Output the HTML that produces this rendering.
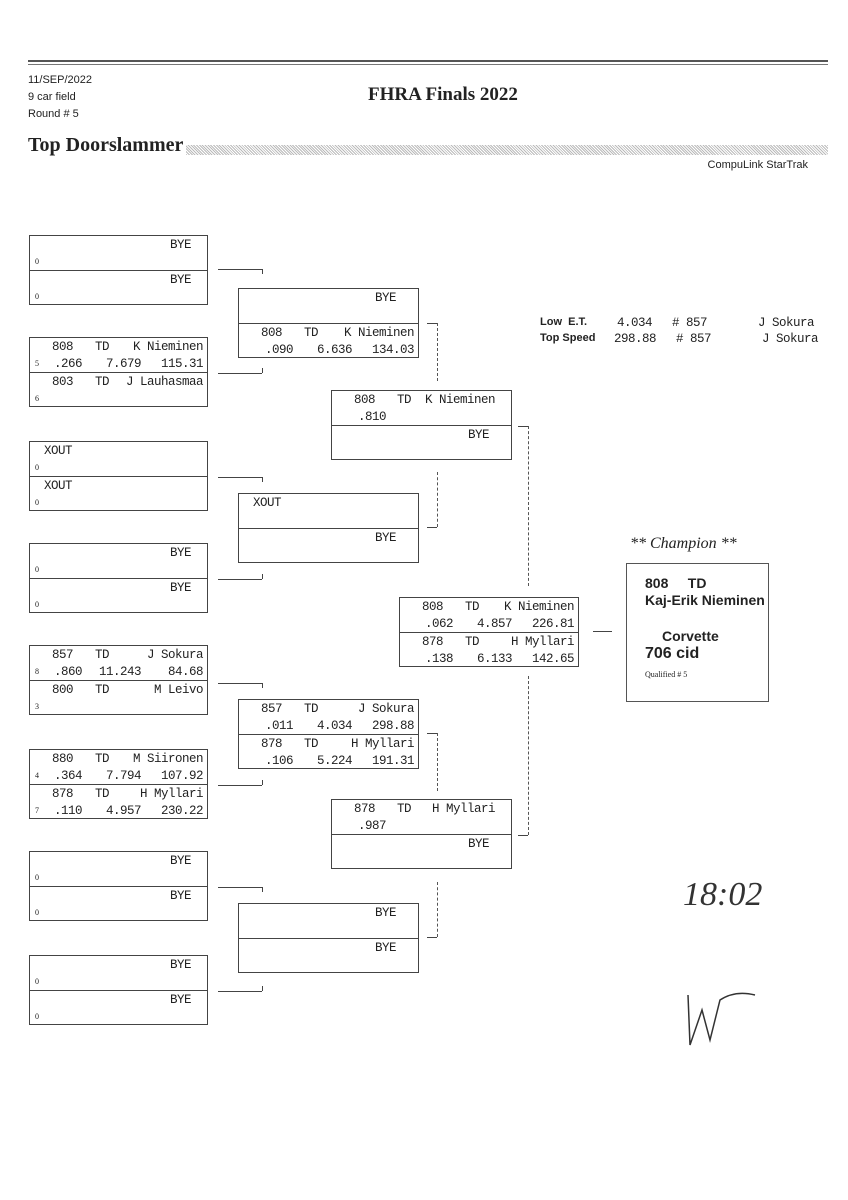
<!DOCTYPE html>
<html><head><meta charset="utf-8"><style>
body{margin:0;background:#fff;width:848px;height:1200px;position:relative;overflow:hidden;font-family:"Liberation Sans",sans-serif;color:#222}
.a{position:absolute}
.b{position:absolute;border:1px solid #444;width:179px;box-sizing:border-box;height:70px}
.h{position:absolute;left:0;right:0;height:34px}
.h2{top:34px;border-top:1px solid #444}
.r{position:absolute;font-family:"Liberation Mono",monospace;font-size:12.5px;line-height:14px;white-space:pre;letter-spacing:-0.5px}
.r1{top:2px}.r2{top:19px}
.n{left:22px}.t{left:65px}.nm{right:4px}.bye{right:16px}.xo{left:14px}
.rt{right:125px}.et{right:66px}.mp{right:4px}
.q{left:5px;top:21px;font-family:"Liberation Serif",serif;font-size:8px;position:absolute}
.hl{position:absolute;height:1px;background:#444}
.vl{position:absolute;width:1px;background:#444}
.dl{position:absolute;width:0;border-left:1px dashed #555}
</style></head><body>
<div class="a" style="left:28px;top:60px;width:800px;height:2px;background:#555"></div>
<div class="a" style="left:28px;top:64px;width:800px;height:1px;background:#777"></div>
<div class="a" style="left:28px;top:72px;font-size:11px;line-height:17px">11/SEP/2022<br>9 car field<br>Round # 5</div>
<div class="a" style="left:368px;top:84px;font-family:'Liberation Serif',serif;font-weight:bold;font-size:19px">FHRA Finals 2022</div>
<div class="a" style="left:28px;top:134px;font-family:'Liberation Serif',serif;font-weight:bold;font-size:20px">Top Doorslammer</div>
<div class="a" style="left:186px;top:145px;width:642px;height:10px;background:repeating-linear-gradient(45deg,#bbb 0 1px,#fff 1px 2px)"></div>
<div class="a" style="right:40px;top:159px;font-size:11px">CompuLink StarTrak</div>

<div class="b" style="left:29px;top:235px"><div class="h"><span class="r r1 bye">BYE</span><span class="q">0</span></div><div class="h h2"><span class="r r1 bye">BYE</span><span class="q">0</span></div></div>
<div class="b" style="left:29px;top:337px"><div class="h"><span class="r r1 n">808</span><span class="r r1 t">TD</span><span class="r r1 nm">K Nieminen</span><span class="q">5</span><span class="r r2 rt">.266</span><span class="r r2 et">7.679</span><span class="r r2 mp">115.31</span></div><div class="h h2"><span class="r r1 n">803</span><span class="r r1 t">TD</span><span class="r r1 nm">J Lauhasmaa</span><span class="q">6</span></div></div>
<div class="b" style="left:29px;top:441px"><div class="h"><span class="r r1 xo">XOUT</span><span class="q">0</span></div><div class="h h2"><span class="r r1 xo">XOUT</span><span class="q">0</span></div></div>
<div class="b" style="left:29px;top:543px"><div class="h"><span class="r r1 bye">BYE</span><span class="q">0</span></div><div class="h h2"><span class="r r1 bye">BYE</span><span class="q">0</span></div></div>
<div class="b" style="left:29px;top:645px"><div class="h"><span class="r r1 n">857</span><span class="r r1 t">TD</span><span class="r r1 nm">J Sokura</span><span class="q">8</span><span class="r r2 rt">.860</span><span class="r r2 et">11.243</span><span class="r r2 mp">84.68</span></div><div class="h h2"><span class="r r1 n">800</span><span class="r r1 t">TD</span><span class="r r1 nm">M Leivo</span><span class="q">3</span></div></div>
<div class="b" style="left:29px;top:749px"><div class="h"><span class="r r1 n">880</span><span class="r r1 t">TD</span><span class="r r1 nm">M Siironen</span><span class="q">4</span><span class="r r2 rt">.364</span><span class="r r2 et">7.794</span><span class="r r2 mp">107.92</span></div><div class="h h2"><span class="r r1 n">878</span><span class="r r1 t">TD</span><span class="r r1 nm">H Myllari</span><span class="q">7</span><span class="r r2 rt">.110</span><span class="r r2 et">4.957</span><span class="r r2 mp">230.22</span></div></div>
<div class="b" style="left:29px;top:851px"><div class="h"><span class="r r1 bye">BYE</span><span class="q">0</span></div><div class="h h2"><span class="r r1 bye">BYE</span><span class="q">0</span></div></div>
<div class="b" style="left:29px;top:955px"><div class="h"><span class="r r1 bye">BYE</span><span class="q">0</span></div><div class="h h2"><span class="r r1 bye">BYE</span><span class="q">0</span></div></div>

<div class="b" style="left:238px;top:288px;width:181px"><div class="h"><span class="r r1 bye" style="right:22px">BYE</span></div><div class="h h2"><span class="r r1 n">808</span><span class="r r1 t">TD</span><span class="r r1 nm">K Nieminen</span><span class="r r2 rt">.090</span><span class="r r2 et">6.636</span><span class="r r2 mp">134.03</span></div></div>
<div class="b" style="left:238px;top:493px;width:181px"><div class="h"><span class="r r1 xo">XOUT</span></div><div class="h h2"><span class="r r1 bye" style="right:22px">BYE</span></div></div>
<div class="b" style="left:238px;top:699px;width:181px"><div class="h"><span class="r r1 n">857</span><span class="r r1 t">TD</span><span class="r r1 nm">J Sokura</span><span class="r r2 rt">.011</span><span class="r r2 et">4.034</span><span class="r r2 mp">298.88</span></div><div class="h h2"><span class="r r1 n">878</span><span class="r r1 t">TD</span><span class="r r1 nm">H Myllari</span><span class="r r2 rt">.106</span><span class="r r2 et">5.224</span><span class="r r2 mp">191.31</span></div></div>
<div class="b" style="left:238px;top:903px;width:181px"><div class="h"><span class="r r1 bye" style="right:22px">BYE</span></div><div class="h h2"><span class="r r1 bye" style="right:22px">BYE</span></div></div>

<div class="b" style="left:331px;top:390px;width:181px"><div class="h"><span class="r r1 n">808</span><span class="r r1 t">TD</span><span class="r r1 nm" style="right:16px">K Nieminen</span><span class="r r2 rt">.810</span></div><div class="h h2"><span class="r r1 bye" style="right:22px">BYE</span></div></div>
<div class="b" style="left:331px;top:799px;width:181px"><div class="h"><span class="r r1 n">878</span><span class="r r1 t">TD</span><span class="r r1 nm" style="right:16px">H Myllari</span><span class="r r2 rt">.987</span></div><div class="h h2"><span class="r r1 bye" style="right:22px">BYE</span></div></div>

<div class="b" style="left:399px;top:597px;width:180px"><div class="h"><span class="r r1 n">808</span><span class="r r1 t">TD</span><span class="r r1 nm">K Nieminen</span><span class="r r2 rt">.062</span><span class="r r2 et">4.857</span><span class="r r2 mp">226.81</span></div><div class="h h2"><span class="r r1 n">878</span><span class="r r1 t">TD</span><span class="r r1 nm">H Myllari</span><span class="r r2 rt">.138</span><span class="r r2 et">6.133</span><span class="r r2 mp">142.65</span></div></div>

<div class="hl" style="left:218px;top:269px;width:44px"></div><div class="vl" style="left:262px;top:269px;height:5px"></div>
<div class="hl" style="left:218px;top:373px;width:44px"></div><div class="vl" style="left:262px;top:368px;height:5px"></div>
<div class="hl" style="left:218px;top:477px;width:44px"></div><div class="vl" style="left:262px;top:477px;height:5px"></div>
<div class="hl" style="left:218px;top:579px;width:44px"></div><div class="vl" style="left:262px;top:574px;height:5px"></div>
<div class="hl" style="left:218px;top:683px;width:44px"></div><div class="vl" style="left:262px;top:683px;height:5px"></div>
<div class="hl" style="left:218px;top:785px;width:44px"></div><div class="vl" style="left:262px;top:780px;height:5px"></div>
<div class="hl" style="left:218px;top:887px;width:44px"></div><div class="vl" style="left:262px;top:887px;height:5px"></div>
<div class="hl" style="left:218px;top:991px;width:44px"></div><div class="vl" style="left:262px;top:986px;height:5px"></div>

<div class="hl" style="left:427px;top:323px;width:10px"></div><div class="dl" style="left:437px;top:323px;height:58px"></div>
<div class="dl" style="left:437px;top:472px;height:55px"></div><div class="hl" style="left:427px;top:527px;width:10px"></div>
<div class="hl" style="left:427px;top:733px;width:10px"></div><div class="dl" style="left:437px;top:733px;height:58px"></div>
<div class="dl" style="left:437px;top:882px;height:55px"></div><div class="hl" style="left:427px;top:937px;width:10px"></div>

<div class="hl" style="left:518px;top:426px;width:10px"></div><div class="dl" style="left:528px;top:426px;height:160px"></div>
<div class="dl" style="left:528px;top:676px;height:159px"></div><div class="hl" style="left:518px;top:835px;width:10px"></div>

<div class="hl" style="left:593px;top:631px;width:19px"></div>

<div class="a" style="left:540px;top:316px;font-size:11px;font-weight:bold">Low&nbsp;&nbsp;E.T.</div>
<div class="a" style="left:540px;top:332px;font-size:11px;font-weight:bold">Top Speed</div>
<div class="r" style="left:617px;top:316px">4.034</div><div class="r" style="left:672px;top:316px"># 857</div><div class="r" style="left:758px;top:316px">J Sokura</div>
<div class="r" style="left:614px;top:332px">298.88</div><div class="r" style="left:676px;top:332px"># 857</div><div class="r" style="left:762px;top:332px">J Sokura</div>

<div class="a" style="left:630px;top:535px;font-family:'Liberation Serif',serif;font-style:italic;font-size:16px">** Champion **</div>
<div class="a" style="left:626px;top:563px;width:143px;height:139px;border:1px solid #555;box-sizing:border-box"></div>
<div class="a" style="left:645px;top:575px;font-size:14px;font-weight:bold;line-height:17px;white-space:pre">808     TD<br>Kaj-Erik Nieminen</div>
<div class="a" style="left:662px;top:628px;font-size:14px;font-weight:bold">Corvette</div>
<div class="a" style="left:645px;top:645px;font-size:16px;font-weight:bold">706 cid</div>
<div class="a" style="left:645px;top:670px;font-family:'Liberation Serif',serif;font-size:8px">Qualified # 5</div>

<div class="a" style="left:683px;top:876px;font-family:'Liberation Serif',serif;font-style:italic;font-size:34px;color:#333">18:02</div>
<svg class="a" style="left:680px;top:985px" width="90" height="70"><path d="M8 10 L10 60 L22 25 L30 55 L40 15 Q55 5 75 10" fill="none" stroke="#333" stroke-width="1.5"/></svg>
</body></html>
